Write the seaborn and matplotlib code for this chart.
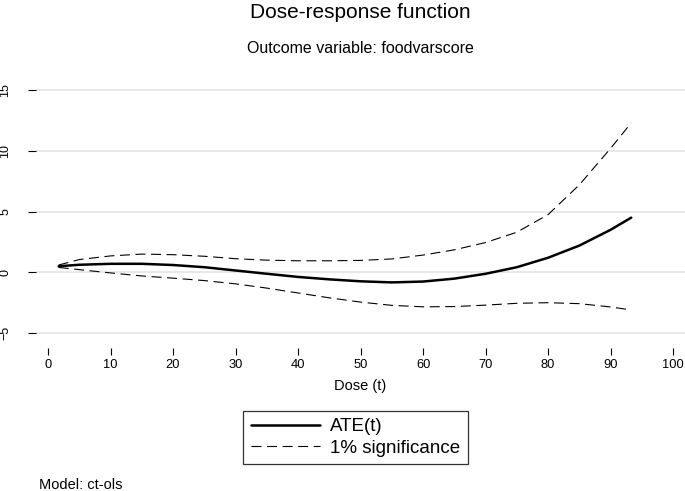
"""Dose-response function (ct-ols) — ATE(t) and 1% significance bounds."""

import matplotlib
matplotlib.use("Agg")
import matplotlib.pyplot as plt
import pandas as pd
import seaborn as sns

# values
DOSE = [1.7, 5, 10, 15, 20, 25, 30, 35, 40, 45, 50, 55, 60, 65, 70, 75, 80, 85, 90, 93.3]
ATE = [0.5, 0.62, 0.7, 0.7, 0.6, 0.42, 0.15, -0.12, -0.38, -0.58, -0.74, -0.83,
       -0.76, -0.52, -0.12, 0.42, 1.2, 2.2, 3.5, 4.5]
UPPER = [0.6, 1.05, 1.35, 1.5, 1.45, 1.32, 1.12, 1.0, 0.95, 0.95, 0.98, 1.1,
         1.42, 1.85, 2.45, 3.3, 4.75, 7.2, 10.2, 12.3]
LOWER = [0.4, 0.22, -0.05, -0.3, -0.48, -0.68, -0.95, -1.3, -1.7, -2.1, -2.45, -2.72,
         -2.84, -2.82, -2.7, -2.55, -2.5, -2.58, -2.85, -3.1]

X_TICKS = list(range(0, 101, 10))
Y_TICKS = [-5, 0, 5, 10, 15]

TITLE = "Dose-response function"
SUBTITLE = "Outcome variable: foodvarscore"
XLABEL = "Dose (t)"
NOTE = "Model: ct-ols"
LEGEND_LABELS = ["ATE(t)", "1% significance"]


def main():
    sns.set_style("white")
    plt.rcParams["font.family"] = ["Liberation Sans", "DejaVu Sans"]
    plt.rcParams["text.color"] = "black"
    plt.rcParams["xtick.labelcolor"] = "black"
    plt.rcParams["ytick.labelcolor"] = "black"

    df = pd.DataFrame({"dose": DOSE, "ate": ATE, "upper": UPPER, "lower": LOWER})

    fig = plt.figure(figsize=(6.85, 4.91), dpi=100)
    ax = fig.add_axes([0.0526, 0.2912, 0.9474, 0.5398])

    for y in Y_TICKS:
        ax.axhline(y, color="#e6e6e6", lw=1.3, zorder=0)

    dash = (0, (9, 5))
    sns.lineplot(data=df, x="dose", y="upper", ax=ax, color="black", lw=0.8,
                 linestyle=dash, label=LEGEND_LABELS[1])
    sns.lineplot(data=df, x="dose", y="lower", ax=ax, color="black", lw=0.8,
                 linestyle=dash, label="_nolegend_")
    sns.lineplot(data=df, x="dose", y="ate", ax=ax, color="black", lw=1.8,
                 label=LEGEND_LABELS[0])

    ax.set_xlim(-1.92, 101.9)
    ax.set_ylim(-6.23, 15.58)
    ax.set_xticks(X_TICKS)
    ax.set_yticks(Y_TICKS)
    ax.set_xlabel("")
    ax.set_ylabel("")
    for s in ax.spines.values():
        s.set_visible(False)

    ax.tick_params(axis="x", bottom=True, direction="out", length=5, width=0.8,
                   pad=3, labelsize=9.3, color="black")
    ax.tick_params(axis="y", left=True, direction="out", length=5.8, width=0.8,
                   pad=12, labelsize=9, color="black")
    for lab in ax.get_yticklabels():
        lab.set_rotation(90)
        lab.set_va("center")

    handles, labels = ax.get_legend_handles_labels()
    order = [labels.index(l) for l in LEGEND_LABELS]
    leg = ax.legend([handles[i] for i in order], [labels[i] for i in order],
                    loc="center", bbox_to_anchor=(355.5 / 685, 1 - 437.5 / 491),
                    bbox_transform=fig.transFigure, fontsize=13.5, frameon=True,
                    fancybox=False, edgecolor="black", handlelength=3.7,
                    handletextpad=0.55, labelspacing=0.25, borderpad=0.38)
    leg.get_frame().set_linewidth(0.9)

    cx = 0.5 + 0.5 * 0.0526
    fig.text(cx, 1 - 12 / 491, TITLE, ha="center", va="center", fontsize=15)
    fig.text(cx, 1 - 48.5 / 491, SUBTITLE, ha="center", va="center", fontsize=11.5)
    fig.text(cx, 1 - 386 / 491, XLABEL, ha="center", va="center", fontsize=10.5)
    fig.text(39 / 685, 1 - 485 / 491, NOTE, ha="left", va="center", fontsize=10.5)

    fig.savefig("out.png", dpi=100)
    plt.close(fig)


if __name__ == "__main__":
    main()
